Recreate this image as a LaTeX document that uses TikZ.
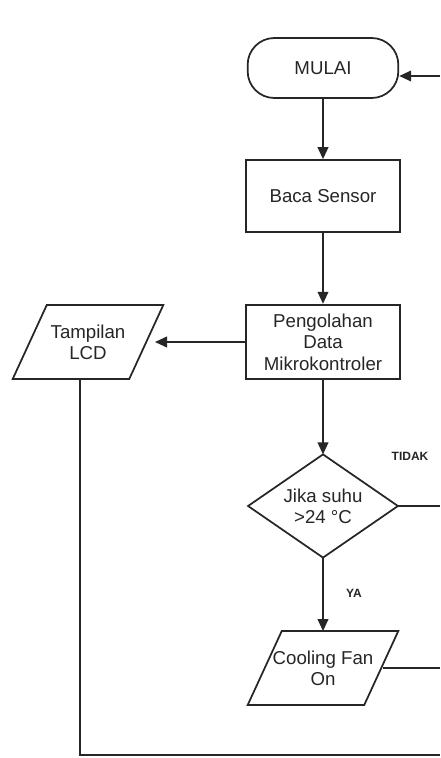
\documentclass[tikz,border=0pt]{standalone}
\usepackage{fontspec}
\setmainfont{Liberation Sans}
\usetikzlibrary{arrows.meta}
\definecolor{ink}{HTML}{262626}
\tikzset{
  base/.style={font=\fontsize{14pt}{16pt}\selectfont, text=ink, align=center, inner sep=0pt},
  boxnode/.style={base, draw=ink, line width=1.3pt, minimum width=115pt, minimum height=54pt},
  termnode/.style={base, draw=ink, line width=1.3pt, rounded corners=20pt, minimum width=113pt, minimum height=45pt},
  plain/.style={base, minimum width=87pt, minimum height=55pt},
  outline/.style={draw=ink, line width=1.3pt},
  flow/.style={draw=ink, line width=1.3pt, -{Triangle[length=9pt,width=8pt]}},
  wire/.style={draw=ink, line width=1.3pt},
  lbl/.style={font=\fontsize{9pt}{10pt}\selectfont\bfseries, text=ink, inner sep=0pt}
}
\begin{document}
\begin{tikzpicture}[x=0.75pt,y=-0.75pt]
\useasboundingbox (0,0) rectangle (440,758);
\fill[white] (0,0) rectangle (440,758);

% nodes
\node[termnode] (mulai) at (323,68) {MULAI};
\node[boxnode] (baca) at (323,196) {Baca Sensor};
\node[boxnode, minimum height=56pt] (olah) at (323,342) {Pengolahan\\Data\\Mikrokontroler};
\node[plain] (lcd) at (88,342) {Tampilan\\LCD};
\draw[outline] ([xshift=12.75pt]lcd.north west) -- ([xshift=12.75pt]lcd.north east)
  -- ([xshift=-12.75pt]lcd.south east) -- ([xshift=-12.75pt]lcd.south west) -- cycle;
\node[base, minimum width=112pt, minimum height=77pt] (dia) at (323,506) {Jika suhu\\>24 °C};
\draw[outline] (dia.north) -- (dia.east) -- (dia.south) -- (dia.west) -- cycle;
\node[plain] (fan) at (323,668) {Cooling Fan\\On};
\draw[outline] ([xshift=12.75pt]fan.north west) -- ([xshift=12.75pt]fan.north east)
  -- ([xshift=-12.75pt]fan.south east) -- ([xshift=-12.75pt]fan.south west) -- cycle;

\node[lbl] (tidak) at (410,456) {TIDAK};
\node[lbl] (ya) at (354,593) {YA};

% edge coordinates
\coordinate (rtop) at (440,76);
\coordinate (rdia) at (440,506);
\coordinate (rfan) at (440,668);
\coordinate (bl) at (80,755);
\coordinate (br) at (440,755);
\coordinate (fanr) at (383,668);

% connectors
\draw[flow] (mulai) -- (baca);
\draw[flow] (baca) -- (olah);
\draw[flow] (olah.west) -- (155,342);
\draw[flow] (olah) -- (dia.north);
\draw[flow] (dia.south) -- (fan.north);
\draw[wire] (dia.east) -- (rdia);
\draw[wire] (fanr) -- (rfan);
\draw[wire] (lcd.south west -| bl) -- (bl) -- (br);
\draw[flow] (rtop) -- (rtop -| mulai.east);
\end{tikzpicture}
\end{document}
